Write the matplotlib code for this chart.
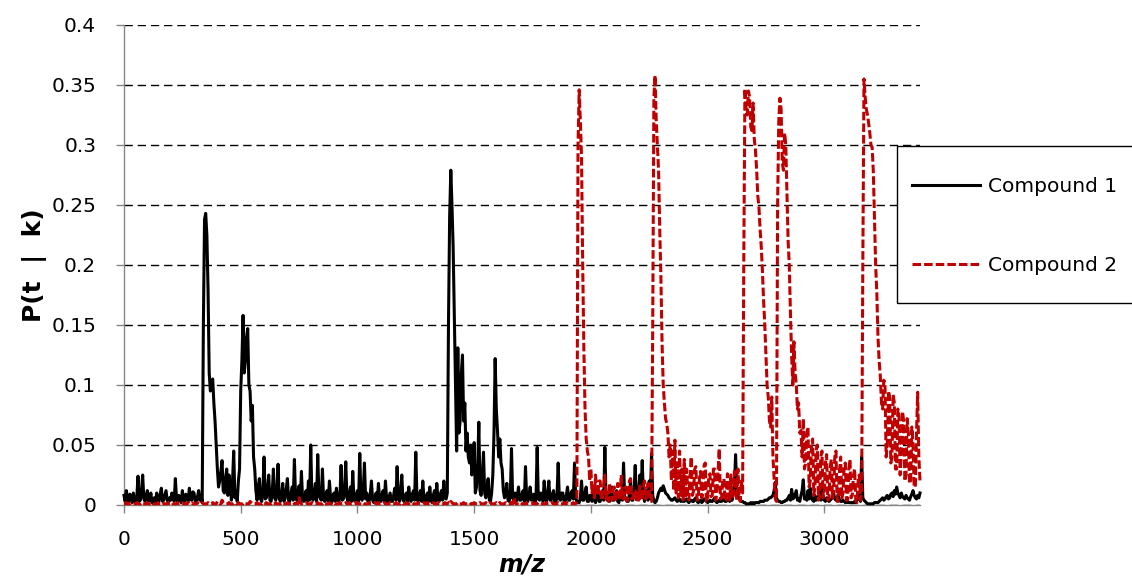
import numpy as np
import matplotlib
matplotlib.use('Agg')
import matplotlib.pyplot as plt
from matplotlib.lines import Line2D
from matplotlib.patches import Rectangle
from matplotlib.ticker import FuncFormatter

# m/z sampled every 5 units, 0..3410
mz_start, mz_step = 0, 5

# Compound 1, P(t | k), one row per 200 m/z
compound1 = [
    .008, .003, .012, .005, .003, .009, .006, .002, .010, .004, .002, .007, .024, .003, .004, .012, .025, .005, .003, .008,
    .012, .003, .004, .010, .002, .005, .006, .002, .010, .004, .003, .009, .014, .003, .004, .008, .012, .004, .002, .006,
    .004, .010, .007, .003, .022, .005, .003, .008, .005, .002, .012, .004, .003, .009, .006, .003, .014, .005, .004, .011,
    .010, .003, .003, .007, .012, .004, .008, .002, .150, .238, .243, .225, .180, .110, .095, .102, .105, .085, .070, .050,
    .030, .015, .020, .028, .037, .012, .010, .022, .030, .008, .025, .018, .004, .020, .045, .006, .012, .003, .020, .030,
    .095, .120, .158, .110, .120, .140, .147, .100, .095, .070, .083, .040, .030, .012, .004, .015, .022, .005, .003, .012,
    .040, .005, .006, .014, .025, .004, .003, .010, .030, .006, .004, .012, .034, .005, .003, .008, .018, .003, .005, .013,
    .022, .004, .003, .009, .015, .004, .038, .006, .004, .011, .016, .003, .028, .005, .003, .007, .012, .003, .020, .004,
    .050, .006, .004, .010, .018, .003, .042, .008, .006, .004, .030, .005, .003, .009, .012, .003, .020, .006, .002, .008,
    .010, .003, .014, .005, .003, .007, .033, .004, .005, .012, .036, .006, .003, .009, .015, .003, .028, .005, .003, .008,
    .012, .003, .043, .006, .004, .011, .035, .005, .010, .003, .003, .009, .020, .004, .002, .007, .010, .003, .018, .005,
    .003, .008, .012, .003, .020, .005, .002, .006, .010, .003, .003, .008, .014, .004, .032, .006, .003, .010, .025, .004,
    .003, .008, .010, .003, .015, .005, .003, .009, .012, .004, .044, .006, .003, .008, .012, .003, .020, .005, .002, .007,
    .010, .003, .015, .004, .002, .008, .012, .003, .018, .005, .003, .009, .012, .004, .020, .006, .005, .010, .150, .240,
    .279, .250, .215, .160, .100, .045, .131, .060, .070, .110, .125, .070, .085, .045, .060, .040, .035, .050, .025, .030,
    .052, .010, .015, .030, .069, .012, .008, .025, .044, .010, .006, .015, .022, .004, .003, .010, .025, .060, .122, .080,
    .062, .040, .055, .035, .030, .012, .006, .010, .018, .004, .003, .008, .047, .006, .004, .010, .003, .007, .015, .004,
    .004, .009, .012, .003, .032, .005, .003, .008, .015, .004, .005, .009, .002, .006, .048, .005, .004, .010, .008, .003,
    .020, .005, .003, .010, .020, .004, .004, .009, .012, .003, .002, .008, .035, .005, .004, .010, .010, .003, .003, .008,
    .015, .004, .004, .010, .012, .005, .035, .006, .003, .002, .002, .006, .020, .004, .004, .010, .015, .003, .003, .008,
    .008, .003, .015, .004, .002, .009, .010, .003, .003, .008, .012, .004, .048, .006, .004, .010, .003, .006, .015, .004,
    .004, .009, .012, .003, .002, .007, .010, .004, .035, .005, .006, .003, .003, .009, .020, .004, .004, .010, .033, .005,
    .005, .012, .025, .006, .037, .008, .003, .009, .012, .004, .020, .006, .043, .008, .003, .002, .003, .006, .010, .012,
    .014, .012, .016, .013, .010, .009, .008, .006, .005, .004, .004, .005, .006, .004, .003, .004, .005, .003, .004, .003,
    .003, .004, .005, .003, .002, .004, .004, .003, .003, .005, .006, .003, .002, .003, .004, .002, .003, .005, .005, .003,
    .002, .003, .004, .003, .003, .004, .006, .003, .002, .003, .004, .003, .003, .004, .005, .003, .003, .004, .004, .003,
    .006, .004, .010, .015, .042, .012, .008, .005, .004, .003, .003, .002, .002, .001, .001, .001, .001, .002, .001, .002,
    .001, .002, .002, .002, .002, .003, .003, .003, .003, .004, .004, .004, .005, .006, .006, .007, .008, .012, .019, .006,
    .004, .003, .003, .002, .002, .003, .003, .004, .004, .006, .008, .004, .013, .005, .006, .009, .012, .004, .005, .003,
    .008, .012, .021, .005, .006, .004, .012, .005, .014, .006, .004, .003, .008, .004, .005, .007, .010, .004, .018, .005,
    .004, .003, .006, .004, .003, .004, .005, .007, .010, .005, .004, .006, .009, .004, .003, .003, .004, .003, .002, .002,
    .003, .002, .002, .002, .002, .002, .003, .002, .004, .005, .010, .003, .040, .006, .004, .003, .002, .001, .001, .001,
    .001, .001, .001, .002, .002, .002, .002, .003, .004, .005, .006, .004, .005, .007, .008, .005, .006, .009, .010, .007,
    .012, .009, .015, .010, .008, .006, .010, .007, .006, .005, .008, .006, .005, .004, .007, .009, .012, .008, .006, .005,
    .008, .006, .010,
]

# Compound 2, P(t | k)
compound2 = [
    .001, .001, .002, .001, .001, .001, .002, .001, .001, .001, .001, .002, .001, .001, .001, .002, .001, .001, .001, .001,
    .002, .001, .001, .001, .002, .001, .001, .001, .001, .002, .001, .001, .001, .002, .001, .001, .001, .001, .002, .001,
    .001, .002, .001, .001, .001, .001, .002, .001, .001, .001, .002, .001, .001, .001, .001, .002, .001, .001, .002, .001,
    .001, .001, .001, .002, .001, .001, .001, .002, .001, .001, .001, .001, .002, .001, .001, .001, .002, .001, .001, .001,
    .003, .002, .001, .001, .004, .002, .001, .001, .001, .001, .002, .001, .001, .001, .001, .002, .001, .001, .002, .001,
    .001, .001, .001, .002, .001, .001, .001, .001, .003, .002, .001, .001, .001, .001, .002, .001, .001, .001, .001, .002,
    .001, .001, .002, .001, .001, .001, .001, .002, .001, .001, .002, .001, .001, .001, .001, .002, .001, .001, .001, .001,
    .002, .001, .001, .001, .001, .002, .001, .001, .002, .001, .006, .002, .001, .001, .001, .001, .002, .001, .001, .001,
    .001, .002, .001, .001, .001, .001, .002, .001, .001, .001, .001, .002, .001, .001, .001, .001, .002, .001, .001, .001,
    .002, .001, .001, .001, .001, .002, .001, .001, .001, .001, .002, .001, .001, .002, .001, .001, .001, .001, .002, .001,
    .002, .001, .001, .001, .001, .002, .001, .001, .001, .001, .002, .001, .001, .001, .001, .002, .001, .001, .002, .001,
    .001, .001, .001, .002, .001, .001, .001, .001, .002, .001, .001, .001, .001, .002, .001, .001, .001, .001, .002, .001,
    .001, .001, .002, .001, .001, .001, .001, .002, .001, .001, .001, .001, .002, .001, .001, .001, .001, .002, .001, .001,
    .002, .001, .001, .001, .001, .002, .001, .001, .001, .001, .002, .001, .001, .001, .001, .002, .001, .001, .002, .001,
    .003, .002, .001, .001, .001, .001, .002, .001, .001, .001, .001, .002, .001, .001, .001, .001, .002, .001, .001, .001,
    .002, .001, .001, .001, .001, .002, .001, .001, .001, .001, .002, .001, .001, .001, .002, .001, .001, .001, .001, .002,
    .001, .001, .002, .001, .001, .001, .001, .002, .001, .001, .001, .001, .002, .001, .006, .002, .001, .001, .001, .001,
    .002, .001, .001, .001, .001, .002, .001, .001, .001, .001, .002, .001, .001, .001, .001, .002, .001, .001, .001, .001,
    .001, .001, .002, .001, .001, .001, .001, .002, .001, .001, .001, .001, .002, .001, .001, .001, .001, .002, .001, .001,
    .002, .001, .001, .001, .001, .002, .001, .001, .003, .300, .346, .320, .290, .200, .130, .080, .055, .045, .040, .020,
    .030, .010, .018, .006, .025, .012, .008, .020, .020, .004, .006, .015, .025, .005, .010, .003, .018, .007, .004, .012,
    .015, .003, .008, .018, .012, .004, .025, .008, .005, .014, .015, .003, .008, .020, .022, .005, .006, .012, .012, .003,
    .010, .004, .016, .006, .004, .015, .020, .005, .008, .018, .012, .003, .003, .150, .340, .358, .320, .300, .279, .230,
    .190, .135, .100, .085, .072, .068, .060, .040, .050, .020, .045, .012, .054, .010, .035, .006, .045, .008, .030, .004,
    .038, .006, .030, .010, .004, .025, .040, .008, .012, .030, .032, .004, .005, .022, .028, .006, .010, .033, .035, .003,
    .004, .024, .026, .007, .008, .030, .030, .004, .012, .028, .047, .005, .006, .020, .022, .003, .004, .026, .018, .003,
    .025, .006, .008, .028, .018, .004, .030, .006, .003, .020, .010, .200, .347, .330, .325, .345, .340, .315, .312, .335,
    .305, .296, .280, .258, .248, .230, .215, .195, .170, .150, .125, .100, .090, .070, .065, .090, .040, .023, .005, .003,
    .250, .320, .339, .330, .285, .279, .310, .300, .260, .220, .200, .160, .125, .100, .136, .110, .100, .080, .085, .060,
    .062, .040, .072, .030, .035, .060, .065, .015, .020, .050, .055, .008, .015, .045, .050, .004, .008, .040, .045, .006,
    .010, .035, .042, .004, .005, .030, .038, .006, .012, .040, .045, .003, .003, .028, .040, .005, .010, .032, .035, .004,
    .004, .030, .038, .006, .008, .025, .030, .003, .002, .020, .025, .004, .010, .200, .355, .340, .330, .325, .318, .310,
    .300, .298, .278, .240, .200, .177, .140, .120, .107, .085, .080, .104, .100, .040, .050, .095, .090, .035, .040, .092,
    .085, .030, .030, .080, .075, .025, .045, .078, .070, .020, .025, .072, .060, .018, .020, .065, .050, .015, .015, .060,
    .094, .040, .020,
]

assert len(compound1) == len(compound2)

series_names = ['Compound 1', 'Compound 2']
x_ticks = [0, 500, 1000, 1500, 2000, 2500, 3000]
y_ticks = [0, 0.05, 0.1, 0.15, 0.2, 0.25, 0.3, 0.35, 0.4]

mz = mz_start + mz_step * np.arange(len(compound1))

RED = '#C00000'
AXIS_GREY = '#868686'
FS = 14.5
LW = 2.2
RED_DASH = (0, (2.8, 1.0))

W, H = 1132, 583
fig = plt.figure(figsize=(W / 100, H / 100), dpi=100)
ax = fig.add_axes([124 / W, 78 / H, 796 / W, 480 / H])

ax.plot(mz, compound1, color='black', lw=LW, clip_on=False, zorder=3)
ax.plot(mz, compound2, color=RED, lw=LW, linestyle=RED_DASH,
        clip_on=False, zorder=4)

ax.set_xlim(0, mz[-1])
ax.set_ylim(0, 0.4)
ax.set_xticks(x_ticks)
ax.set_yticks(y_ticks)
ax.yaxis.set_major_formatter(FuncFormatter(lambda v, p: '{:g}'.format(v)))

ax.set_axisbelow(True)
ax.yaxis.grid(True, color='black', lw=1.0, linestyle=(0, (6, 3.5)))

for side in ['top', 'right']:
    ax.spines[side].set_visible(False)
for side in ['left', 'bottom']:
    ax.spines[side].set_color(AXIS_GREY)
    ax.spines[side].set_linewidth(1.0)

ax.tick_params(axis='both', direction='out', length=6, width=1,
               color=AXIS_GREY, labelsize=FS, labelcolor='black')
ax.tick_params(axis='x', pad=12)
ax.tick_params(axis='y', pad=14)

ax.set_ylabel('P(t  |  k)', fontsize=18, fontweight='bold')
ax.yaxis.set_label_coords(-0.097, 0.5)
ax.set_xlabel('m/z', fontsize=17, fontweight='bold', style='italic')
ax.xaxis.set_label_coords(0.5, -0.1)

# white legend box, running off the right edge of the figure
frame = Rectangle((897 / W, (H - 303) / H), 0.3, 157 / H,
                  transform=fig.transFigure, facecolor='white',
                  edgecolor='black', lw=1.0, clip_on=False, zorder=2)
fig.add_artist(frame)

handles = [Line2D([], [], color='black', lw=LW),
           Line2D([], [], color=RED, lw=LW, linestyle=RED_DASH)]
fig.legend(handles, series_names, loc='upper left',
           bbox_to_anchor=(912 / W, (H - 177) / H),
           bbox_transform=fig.transFigure, frameon=False, borderpad=0,
           borderaxespad=0, fontsize=FS, handlelength=3.4,
           handletextpad=0.35, labelspacing=3.0).set_zorder(5)

fig.savefig('out.png', dpi=100)
